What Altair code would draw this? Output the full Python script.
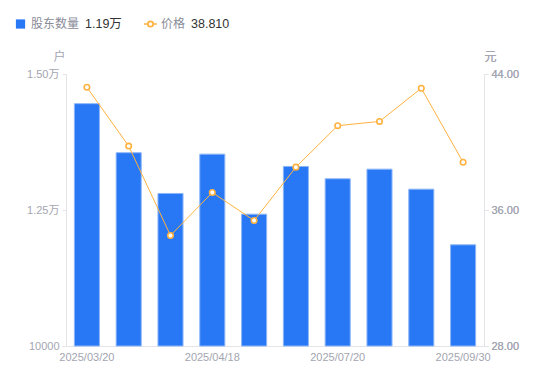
import altair as alt
import pandas as pd

dates = ["2025/03/20", "2025/03/31", "2025/04/10", "2025/04/18", "2025/04/30",
         "2025/06/30", "2025/07/20", "2025/07/31", "2025/08/31", "2025/09/30"]
holders = [14455, 13553, 12804, 13527, 12423, 13301, 13074, 13251, 12883, 11860]
prices = [43.22, 39.76, 34.50, 37.03, 35.38, 38.52, 40.96, 41.21, 43.16, 38.81]
x_labels = ["2025/03/20", "2025/04/18", "2025/07/20", "2025/09/30"]
left_ticks = [10000, 12500, 15000]
right_ticks = [28, 36, 44]
base_value = 10000

BLUE = "#2878F5"
ORANGE = "#FFB23F"
GRAY = "#a3a5b1"
DARK = "#333333"
AXIS = "#e4e4e8"
FONT = "Liberation Sans, Noto Sans CJK SC"

df = pd.DataFrame({"date": dates, "holders": holders, "price": prices,
                   "base": [base_value] * len(dates)})

x_enc = alt.X("date:N", sort=dates,
              scale=alt.Scale(paddingInner=0.4, paddingOuter=0.2),
              axis=alt.Axis(values=x_labels, title=None, labelAngle=0, ticks=False,
                            domainColor=AXIS, labelColor=GRAY, labelFontSize=11,
                            labelPadding=5, labelFont=FONT))

bars = alt.Chart(df).mark_bar(color=BLUE, stroke="#8db6f8", strokeWidth=1).encode(
    x=x_enc,
    y=alt.Y("holders:Q", scale=alt.Scale(domain=[10000, 15000], zero=False, nice=False),
            axis=alt.Axis(values=left_ticks, title="户", titleAngle=0, titleX=-7, titleY=-11,
                          titleAlign="center", titleColor=GRAY, titleFontSize=12,
                          titleFontWeight="normal", titleFont=FONT,
                          labelExpr="datum.value > 10000 ? format(datum.value/10000, '.2f') + '万' : format(datum.value, 'd')",
                          grid=False, tickSize=4, tickColor=AXIS, domainColor=AXIS,
                          labelColor=GRAY, labelFontSize=11, labelPadding=3, labelFont=FONT)),
    y2="base:Q",
)

y_right = alt.Y("price:Q", scale=alt.Scale(domain=[28, 44], zero=False, nice=False),
                axis=alt.Axis(orient="right", values=right_ticks, format=".2f", title="元",
                              titleAngle=0, titleX=6, titleY=-11, titleAlign="center",
                              titleColor=GRAY, titleFontSize=12, titleFontWeight="normal",
                              titleFont=FONT, grid=False, tickSize=4, tickColor=AXIS,
                              domainColor=AXIS, labelColor=GRAY, labelFontSize=11,
                              labelPadding=3, labelFont=FONT))

line = alt.Chart(df).mark_line(color=ORANGE, strokeWidth=1).encode(
    x=alt.X("date:N", sort=dates), y=y_right)
pts = alt.Chart(df).mark_point(shape="circle", filled=True, fill="white", stroke=ORANGE,
                               strokeWidth=1.6, size=30, opacity=1).encode(
    x=alt.X("date:N", sort=dates), y=y_right)

# custom legend built from the last values
leg = pd.DataFrame({"a": [0]})
holders_txt = f"{holders[-1] / 10000:.2f}万"
price_txt = f"{prices[-1]:.3f}"
LY = -50
leg_sq = alt.Chart(leg).mark_square(color=BLUE, size=85, opacity=1).encode(
    x=alt.value(-45.5), y=alt.value(LY))
leg_t1 = alt.Chart(leg).mark_text(text="股东数量", align="left", baseline="middle",
                                  fontSize=12, color="#8a8c99", font=FONT).encode(
    x=alt.value(-35), y=alt.value(LY))
leg_v1 = alt.Chart(leg).mark_text(text=holders_txt, align="left", baseline="middle",
                                  fontSize=12.5, color=DARK, font=FONT).encode(
    x=alt.value(19), y=alt.value(LY))
leg_ln = alt.Chart(leg).mark_rule(color=ORANGE, strokeWidth=1.5).encode(
    x=alt.value(78), x2=alt.value(91), y=alt.value(LY))
leg_pt = alt.Chart(leg).mark_point(shape="circle", filled=True, fill="white", stroke=ORANGE,
                                   strokeWidth=1.8, size=28, opacity=1).encode(
    x=alt.value(84.5), y=alt.value(LY))
leg_t2 = alt.Chart(leg).mark_text(text="价格", align="left", baseline="middle",
                                  fontSize=12, color="#8a8c99", font=FONT).encode(
    x=alt.value(95), y=alt.value(LY))
leg_v2 = alt.Chart(leg).mark_text(text=price_txt, align="left", baseline="middle",
                                  fontSize=12.5, color=DARK, font=FONT).encode(
    x=alt.value(125), y=alt.value(LY))

chart = alt.layer(bars, line, pts, leg_sq, leg_t1, leg_v1, leg_ln, leg_pt, leg_t2, leg_v2
                  ).resolve_scale(y="independent").properties(
    width=418, height=272,
    autosize=alt.AutoSizeParams(type="none"),
    padding={"left": 58, "top": 66, "right": 58, "bottom": 27},
).configure_view(stroke=None)

chart.save("out.html", embed_options={"renderer": "svg", "actions": False})
